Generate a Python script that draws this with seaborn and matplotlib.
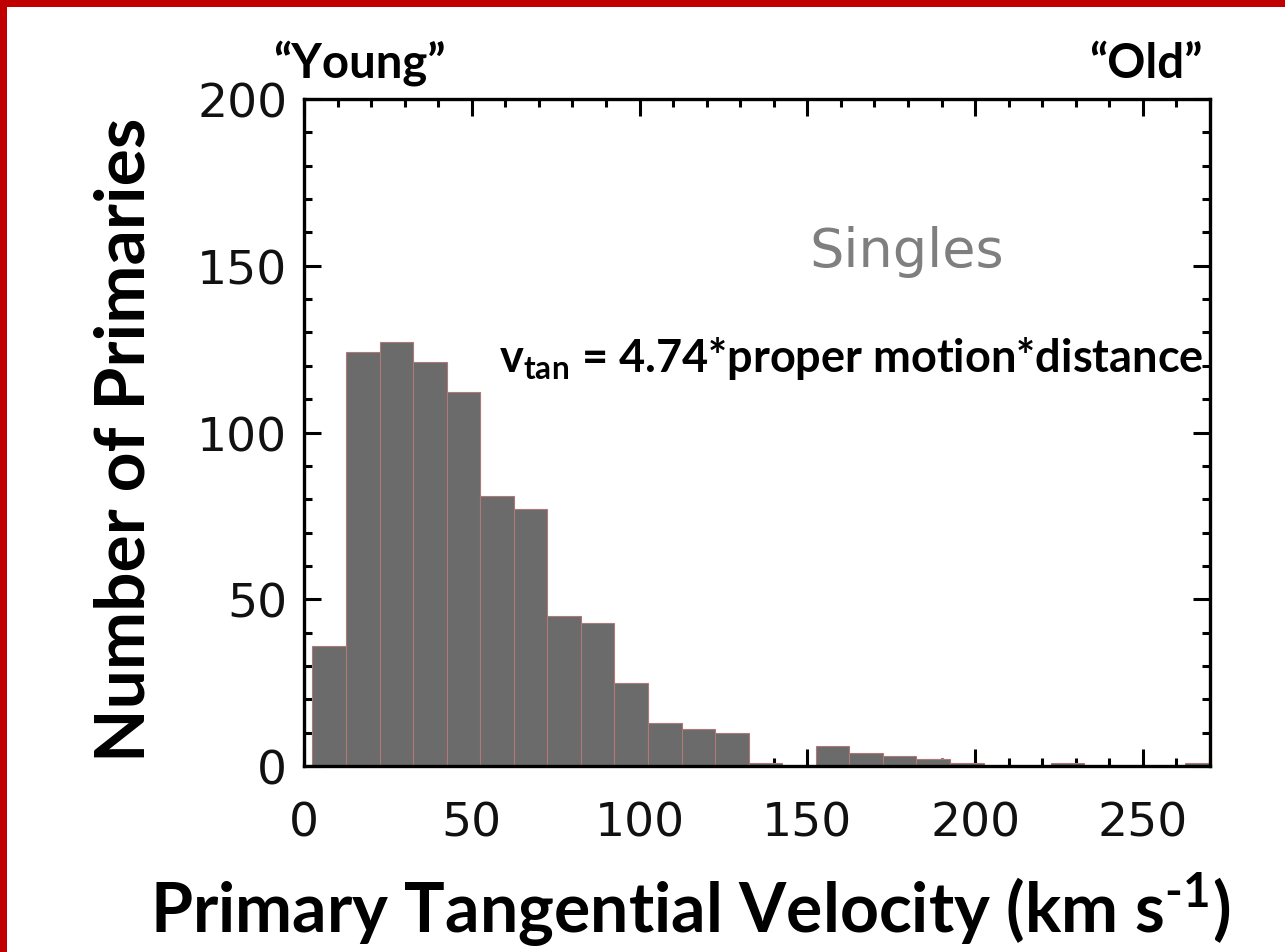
import numpy as np
import matplotlib
matplotlib.use("Agg")
import matplotlib.pyplot as plt
from matplotlib.patches import Rectangle
from matplotlib.ticker import MultipleLocator
import seaborn as sns

# ---- data ----
bin_edges = [2.5 + 10 * k for k in range(28)]
counts = [36, 124, 127, 121, 112, 81, 77, 45, 43, 25, 13, 11, 10, 1, 0,
          6, 4, 3, 2, 1, 0, 0, 1, 0, 0, 0, 1]
bin_centers = [(bin_edges[i] + bin_edges[i + 1]) / 2 for i in range(len(counts))]

x_label = "Primary Tangential Velocity (km s$^{\\text{-}\\mathbf{1}}$)"
y_label = "Number of Primaries"
x_ticks = [0, 50, 100, 150, 200, 250]
y_ticks = [0, 50, 100, 150, 200]

sns.set_style("ticks")
plt.rcParams["mathtext.fontset"] = "custom"
plt.rcParams["mathtext.rm"] = "Lato:bold"
plt.rcParams["mathtext.bf"] = "Lato:bold"
plt.rcParams["font.family"] = ["DejaVu Sans"]
plt.rcParams["text.color"] = "black"
plt.rcParams["axes.labelcolor"] = "black"
plt.rcParams["xtick.color"] = "black"
plt.rcParams["ytick.color"] = "black"

fig = plt.figure(figsize=(12.85, 9.53), dpi=100)
ax = fig.add_axes([304 / 1285, (953 - 767) / 953, 906 / 1285, 667 / 953])

sns.histplot(x=bin_centers, weights=counts, bins=bin_edges, ax=ax,
             color="#6b6b6b", edgecolor="#b07878", linewidth=0.8, alpha=1.0)

ax.set_xlim(0, 270)
ax.set_ylim(0, 200)
ax.set_xticks(x_ticks)
ax.set_yticks(y_ticks)
ax.xaxis.set_minor_locator(MultipleLocator(10))
ax.yaxis.set_minor_locator(MultipleLocator(10))
ax.tick_params(which="both", direction="in", top=True, right=True, width=2.2,
               color="black")
ax.tick_params(which="major", length=12)
ax.tick_params(which="minor", length=6)
ax.tick_params(axis="x", which="major", labelsize=34, pad=25)
ax.tick_params(axis="y", which="major", labelsize=34, pad=12)
for lab in ax.get_xticklabels() + ax.get_yticklabels():
    lab.set_color("#111111")
for s in ax.spines.values():
    s.set_linewidth(2.4)
    s.set_color("black")

ax.set_xlabel(x_label, fontsize=49, fontweight="bold", family=["Lato", "DejaVu Sans"])
ax.xaxis.label.set_va("baseline")
ax.xaxis.set_label_coords(0.426, -0.249)
ax.set_ylabel(y_label, fontsize=50, fontweight="bold", family=["Lato", "DejaVu Sans"])
ax.yaxis.label.set_va("baseline")
ax.yaxis.set_label_coords(-0.176, 0.49)

ax.text(150.5, 149.8, "Singles", fontsize=39, color="#7f7f7f", va="baseline",
        family=["DejaVu Sans"])
ax.text(58, 118.3, "$\\mathbf{v}_{\\mathbf{tan}}$ = 4.74*proper motion*distance",
        fontsize=32.5, fontweight="bold", va="baseline", color="black",
        family=["Lato", "DejaVu Sans"])

fig.text(273 / 1285, (953 - 78) / 953, "\u201cYoung\u201d", fontsize=34,
         fontweight="bold", va="baseline", ha="left",
         family=["Lato", "DejaVu Sans"])
fig.text(1203 / 1285, (953 - 78) / 953, "\u201cOld\u201d", fontsize=34,
         fontweight="bold", va="baseline", ha="right",
         family=["Lato", "DejaVu Sans"])

# red slide frame
fig.add_artist(Rectangle((0, 0), 7 / 1285, 1, transform=fig.transFigure,
                         color="#c00000", lw=0))
fig.add_artist(Rectangle((0, 1 - 8 / 953), 1, 8 / 953, transform=fig.transFigure,
                         color="#c00000", lw=0))

fig.savefig("out.png", dpi=100)
